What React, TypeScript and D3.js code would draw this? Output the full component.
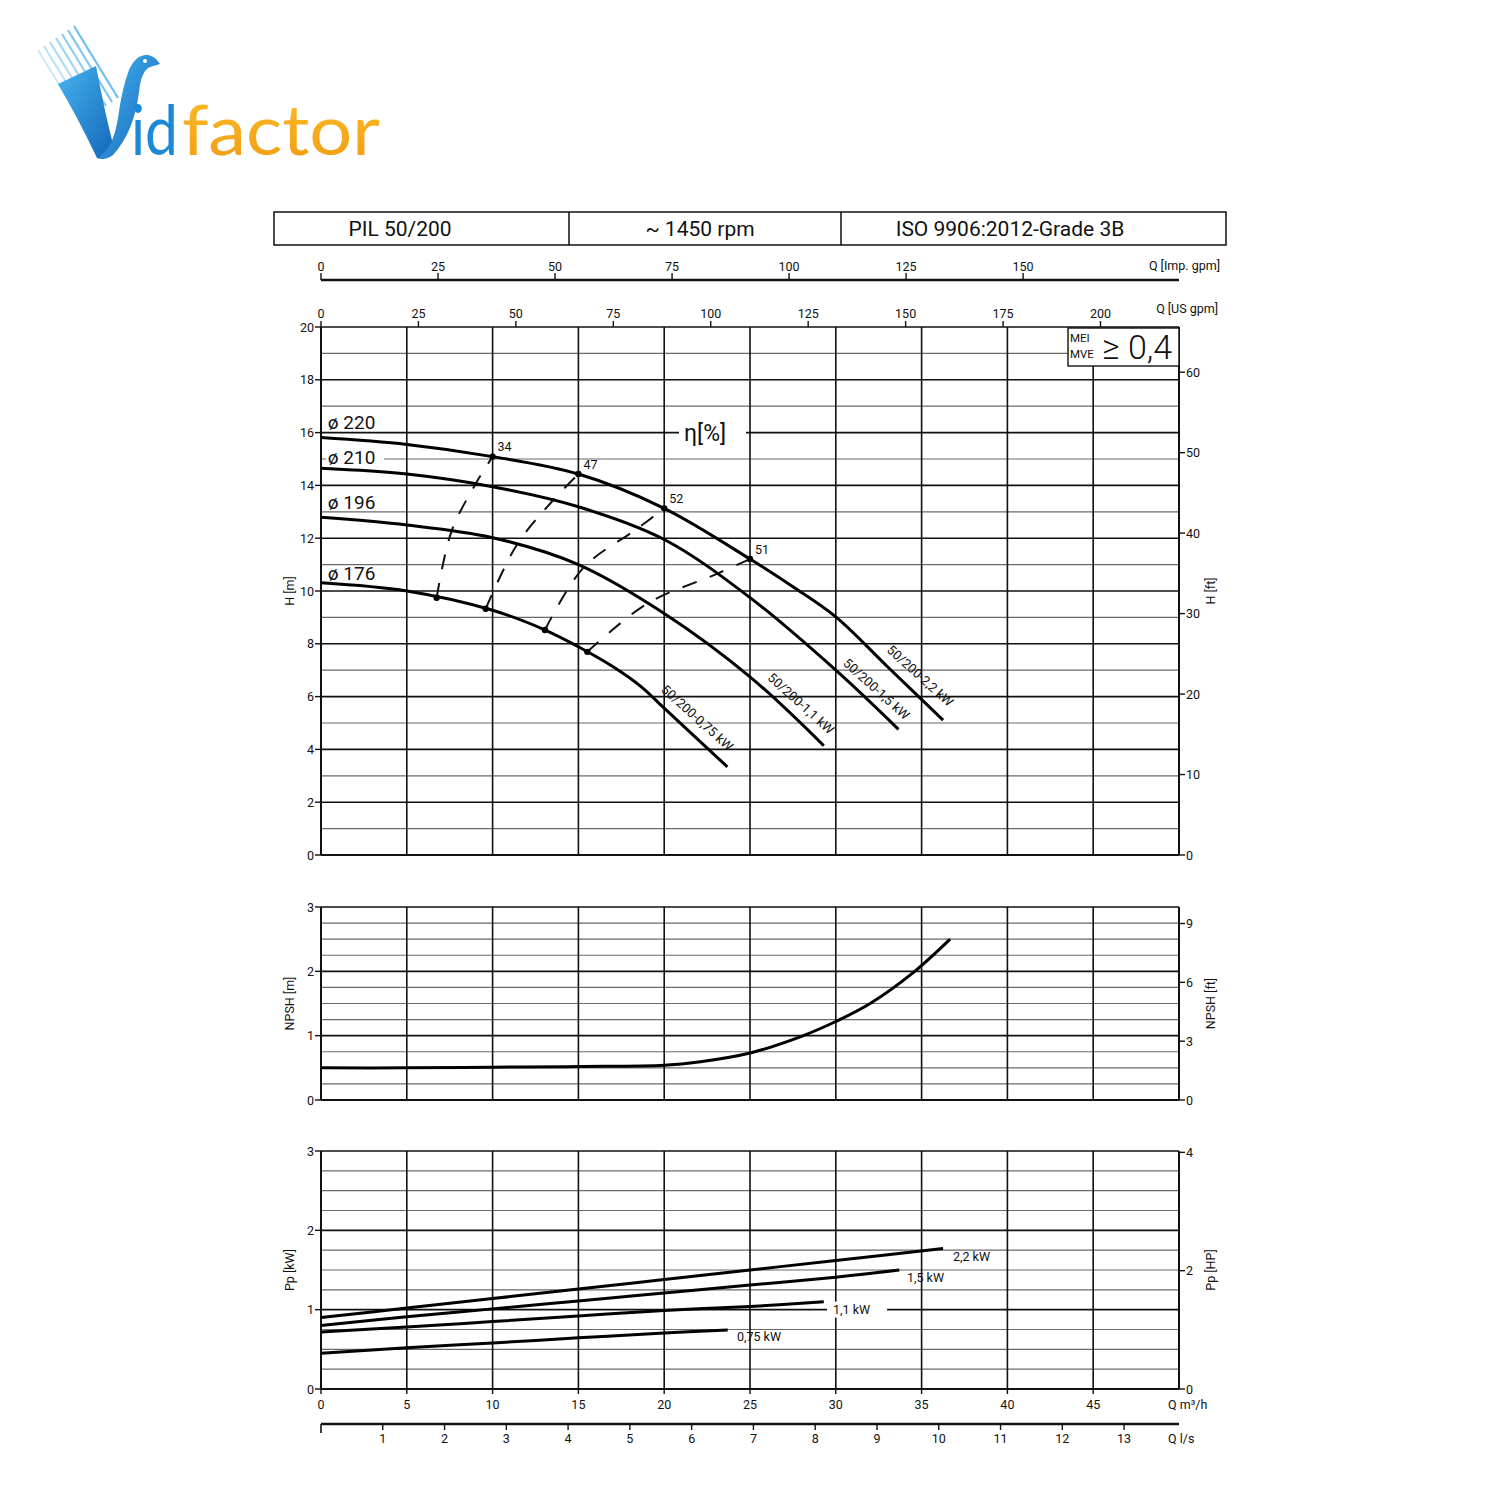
import React from 'react';
import * as d3 from 'd3';

const FONT = 'Roboto, "Open Sans", "DejaVu Sans", sans-serif';

// ---- axis ticks ----
const Q_TICKS = [0, 5, 10, 15, 20, 25, 30, 35, 40, 45];
const LS_TICKS = [1, 2, 3, 4, 5, 6, 7, 8, 9, 10, 11, 12, 13];
const US_TICKS = [0, 25, 50, 75, 100, 125, 150, 175, 200];
const IMP_TICKS = [0, 25, 50, 75, 100, 125, 150];
const H_TICKS = [0, 2, 4, 6, 8, 10, 12, 14, 16, 18, 20];
const HFT_TICKS = [0, 10, 20, 30, 40, 50, 60];
const NPSH_TICKS = [0, 1, 2, 3];
const NPSHFT_TICKS = [0, 3, 6, 9];
const P_TICKS = [0, 1, 2, 3];
const HP_TICKS = [0, 2, 4];

// ---- header ----
const HEADER = ['PIL 50/200', '~ 1450 rpm', 'ISO 9906:2012-Grade 3B'];

// ---- H-Q curves (Q in m3/h, H in m) ----
const DIAMETERS = ['ø 220', 'ø 210', 'ø 196', 'ø 176'];
const MOTORS = ['50/200-2,2 kW', '50/200-1,5 kW', '50/200-1,1 kW', '50/200-0,75 kW'];
const Q_220 = [0, 5, 10, 15, 20, 25, 27.5, 30, 33, 36.25];
const H_220 = [15.81, 15.55, 15.09, 14.43, 13.13, 11.21, 10.16, 9.02, 7.14, 5.11];
const Q_210 = [0, 5, 10, 15, 20, 25, 30, 33.65];
const H_210 = [14.65, 14.43, 13.95, 13.19, 11.95, 9.75, 7.0, 4.76];
const Q_196 = [0, 5, 10, 15, 20, 25, 29.3];
const H_196 = [12.79, 12.5, 12.02, 11.0, 9.15, 6.75, 4.14];
const Q_176 = [0, 5, 10, 13, 15, 17, 18.65, 20, 23.68];
const H_176 = [10.31, 10.0, 9.27, 8.54, 7.89, 7.14, 6.38, 5.56, 3.34];
// diameter label anchor (Q, H)
const DIA_LABEL_Q = [0.4, 0.4, 0.4, 0.4];
const DIA_LABEL_H = [16.4, 15.05, 13.35, 10.65];
// motor label anchor (Q, H)
const MOTOR_LABEL_Q = [33.1, 30.55, 26.15, 19.95];
const MOTOR_LABEL_H = [7.85, 7.35, 6.8, 6.35];

// ---- iso-efficiency lines: Q where each crosses ø176, ø196, ø210, ø220 ----
const EFF_VALUES = ['34', '47', '52', '51'];
const EFF_Q = [
  [6.74, 7.6, 9.0, 10],
  [9.6, 11.4, 13.5, 15],
  [13.05, 15.3, 18.4, 20],
  [15.52, 19.0, 23.0, 25],
];

// ---- NPSH ----
const NPSH_Q = [0, 5, 10, 15, 20, 22, 25, 28, 30, 32, 34.6, 36.66];
const NPSH_V = [0.5, 0.5, 0.51, 0.52, 0.54, 0.59, 0.73, 0.99, 1.22, 1.5, 2.0, 2.5];

// ---- Power ----
const POWER_LABELS = ['2,2 kW', '1,5 kW', '1,1 kW', '0,75 kW'];
const P_Q_22 = [0, 5, 10, 15, 20, 25, 30, 36.25];
const P_22 = [0.9, 1.02, 1.14, 1.26, 1.38, 1.5, 1.62, 1.77];
const P_Q_15 = [0, 5, 10, 15, 20, 25, 30, 33.7];
const P_15 = [0.8, 0.91, 1.01, 1.11, 1.21, 1.31, 1.41, 1.5];
const P_Q_11 = [0, 5, 10, 15, 20, 25, 29.3];
const P_11 = [0.72, 0.78, 0.85, 0.92, 0.99, 1.04, 1.1];
const P_Q_075 = [0, 5, 10, 15, 20, 23.7];
const P_075 = [0.45, 0.52, 0.58, 0.645, 0.705, 0.745];
const P_LABEL_Q = [36.83, 34.15, 29.84, 24.24];
const P_LABEL_V = [1.665, 1.4, 1.0, 0.656];

const range = (a: number, b: number, s: number) => d3.range(a, b + s / 2, s);

export default function App() {
  const X0 = 321, X1 = 1179;
  const x = d3.scaleLinear().domain([0, 50]).range([X0, X1]);
  const xUS = d3.scaleLinear().domain([0, 50 / 0.2271247]).range([X0, X1]);
  const xImp = d3.scaleLinear().domain([0, 50 / 0.2727655]).range([X0, X1]);
  const xLs = d3.scaleLinear().domain([0, 50 / 3.6]).range([X0, X1]);
  const yH = d3.scaleLinear().domain([0, 20]).range([855, 327]);
  const yHft = d3.scaleLinear().domain([0, 20 / 0.3048]).range([855, 327]);
  const yN = d3.scaleLinear().domain([0, 3]).range([1100, 907]);
  const yNft = d3.scaleLinear().domain([0, 3 / 0.3048]).range([1100, 907]);
  const yP = d3.scaleLinear().domain([0, 3]).range([1389, 1151]);
  const yHP = d3.scaleLinear().domain([0, 3 / 0.7457]).range([1389, 1151]);

  const hCurvesQ = [Q_220, Q_210, Q_196, Q_176];
  const hCurvesH = [H_220, H_210, H_196, H_176];
  const hInterp = hCurvesQ.map((qs, i) => d3.scaleLinear().domain(qs).range(hCurvesH[i]));

  const lineGen = (xs: any, ys: any) =>
    d3.line<[number, number]>().x((d) => xs(d[0])).y((d) => ys(d[1])).curve(d3.curveCatmullRom.alpha(0.5));
  const zip = (a: number[], b: number[]) => a.map((v, i) => [v, b[i]] as [number, number]);

  const vGrid = (y0: number, y1: number) =>
    Q_TICKS.slice(1).map((q) => (
      <line key={'v' + q + y0} x1={x(q)} x2={x(q)} y1={y0} y2={y1} stroke="#111" strokeWidth={1.6} />
    ));
  const hGrid = (ys: any, vals: number[], isMajor: (v: number) => boolean) =>
    vals.map((v) => (
      <line
        key={'h' + v + ys(0)}
        x1={X0}
        x2={X1}
        y1={ys(v)}
        y2={ys(v)}
        stroke={isMajor(v) ? '#111' : '#6a6a6a'}
        strokeWidth={isMajor(v) ? 1.6 : 1.2}
      />
    ));
  const leftTicks = (ys: any, vals: number[]) =>
    vals.map((v) => (
      <g key={'lt' + v + ys(0)}>
        <line x1={X0 - 6} x2={X0} y1={ys(v)} y2={ys(v)} stroke="#111" strokeWidth={1.4} />
        <text x={X0 - 7} y={ys(v)} textAnchor="end" dominantBaseline="central" fontSize={12.5}>
          {v}
        </text>
      </g>
    ));
  const rightTicks = (ys: any, vals: number[]) =>
    vals.map((v) => (
      <g key={'rt' + v + ys(0)}>
        <line x1={X1} x2={X1 + 6} y1={ys(v)} y2={ys(v)} stroke="#111" strokeWidth={1.4} />
        <text x={X1 + 7} y={ys(v)} textAnchor="start" dominantBaseline="central" fontSize={12.5}>
          {v}
        </text>
      </g>
    ));
  const frame = (yTop: number, yBot: number) => (
    <g>
      <line x1={X0} x2={X0} y1={yTop} y2={yBot} stroke="#111" strokeWidth={2} />
      <line x1={X1} x2={X1} y1={yTop} y2={yBot} stroke="#111" strokeWidth={2} />
      <line x1={X0} x2={X1} y1={yBot} y2={yBot} stroke="#111" strokeWidth={2} />
      <line x1={X0} x2={X1} y1={yTop} y2={yTop} stroke="#111" strokeWidth={1.6} />
    </g>
  );
  const rotLabel = (text: string, cx: number, cy: number) => (
    <text
      x={cx}
      y={cy}
      transform={`rotate(-90 ${cx} ${cy})`}
      textAnchor="middle"
      dominantBaseline="central"
      fontSize={12.5}
    >
      {text}
    </text>
  );

  const powerQ = [P_Q_22, P_Q_15, P_Q_11, P_Q_075];
  const powerV = [P_22, P_15, P_11, P_075];

  // iso-efficiency points (ø176 -> ø220 ordering of curves index 3,2,1,0)
  const effPts = EFF_Q.map((qs) => qs.map((q, j) => [q, hInterp[3 - j](q)] as [number, number]));
  const effLine = d3
    .line<[number, number]>()
    .x((d) => x(d[0]))
    .y((d) => yH(d[1]))
    .curve(d3.curveCatmullRom.alpha(0.5));

  return (
    <svg
      width={1500}
      height={1500}
      style={{ position: 'absolute', left: 0, top: 0, background: '#fff' }}
      fontFamily={FONT}
      fill="#111"
    >
      <defs>
        <linearGradient id="vgrad" x1="0" y1="0" x2="1" y2="1">
          <stop offset="0" stopColor="#45b4f0" />
          <stop offset="1" stopColor="#1466b8" />
        </linearGradient>
        <linearGradient id="ograd" x1="0" y1="0" x2="0" y2="1">
          <stop offset="0" stopColor="#fbbf2a" />
          <stop offset="1" stopColor="#f29a12" />
        </linearGradient>
      </defs>
      <rect x={0} y={0} width={1500} height={1500} fill="#fff" />

      {/* ---- Logo ---- */}
      <g>
        {d3.range(7).map((i) => (
          <line
            key={'st' + i}
            x1={38 + i * 6}
            y1={50 - i * 4}
            x2={82 + i * 6}
            y2={122 - i * 4}
            stroke="#5fb9ee"
            strokeWidth={2.2}
            opacity={0.3 + i * 0.1}
          />
        ))}
        <path d="M58 84 L96 66 Q106 118 114 148 Q108 161 97 158 Q78 118 58 84 Z" fill="url(#vgrad)" />
        <path
          d="M97 158 Q113 150 118 118 Q122 88 129 70 Q136 54 148 55 Q155 56 160 64 L150 67 Q141 71 139 92 Q134 132 113 155 Q105 161 97 158 Z"
          fill="url(#vgrad)"
        />
        <circle cx={145} cy={61} r={2} fill="#fff" />
        <text x={131} y={155} fontFamily="Lato, sans-serif" fontWeight={400} fontSize={70} fill="#1b8ad6" textLength={47} lengthAdjust="spacingAndGlyphs">
          id
        </text>
        <text x={182} y={155} fontFamily="Lato, sans-serif" fontWeight={400} fontSize={70} fill="url(#ograd)" textLength={198} lengthAdjust="spacingAndGlyphs">
          factor
        </text>
      </g>

      {/* ---- Header ---- */}
      <g>
        <rect x={274} y={212} width={952} height={33} fill="none" stroke="#111" strokeWidth={1.5} />
        <line x1={569} x2={569} y1={212} y2={245} stroke="#111" strokeWidth={1.5} />
        <line x1={841} x2={841} y1={212} y2={245} stroke="#111" strokeWidth={1.5} />
        {HEADER.map((t, i) => (
          <text key={t} x={[400, 700, 1010][i]} y={229} textAnchor="middle" dominantBaseline="central" fontSize={21}>
            {t}
          </text>
        ))}
      </g>

      {/* ---- Imp gpm axis ---- */}
      <g>
        <line x1={X0} x2={X1} y1={280} y2={280} stroke="#111" strokeWidth={2.4} />
        {IMP_TICKS.map((t) => (
          <g key={'imp' + t}>
            <line x1={xImp(t)} x2={xImp(t)} y1={273} y2={280} stroke="#111" strokeWidth={1.4} />
            <text x={xImp(t)} y={266} textAnchor="middle" dominantBaseline="central" fontSize={12.5}>
              {t}
            </text>
          </g>
        ))}
        <text x={1220} y={265} textAnchor="end" dominantBaseline="central" fontSize={12.5}>
          Q [Imp. gpm]
        </text>
      </g>

      {/* ---- US gpm axis ---- */}
      <g>
        {US_TICKS.map((t) => (
          <g key={'us' + t}>
            <line x1={xUS(t)} x2={xUS(t)} y1={321} y2={327} stroke="#111" strokeWidth={1.4} />
            <text x={xUS(t)} y={313} textAnchor="middle" dominantBaseline="central" fontSize={12.5}>
              {t}
            </text>
          </g>
        ))}
        <text x={1218} y={308} textAnchor="end" dominantBaseline="central" fontSize={12.5}>
          Q [US gpm]
        </text>
      </g>

      {/* ---- H panel ---- */}
      <g>
        {hGrid(yH, range(1, 19, 1), (v) => v % 2 === 0)}
        {vGrid(yH(20), yH(0))}
        {frame(yH(20), yH(0))}
        {leftTicks(yH, H_TICKS)}
        {rightTicks(yHft, HFT_TICKS)}
        {rotLabel('H [m]', 289, yH(10))}
        {rotLabel('H [ft]', 1210, yH(10))}

        {/* MEI box */}
        <rect x={1068} y={328} width={111} height={38} fill="#fff" stroke="#111" strokeWidth={1.4} />
        <text x={1070} y={338} fontSize={11.5} dominantBaseline="central">MEI</text>
        <text x={1070} y={354} fontSize={11.5} dominantBaseline="central">MVE</text>
        <text x={1102} y={347} fontSize={34} fontWeight={300} dominantBaseline="central">
          ≥ 0,4
        </text>

        {/* white backgrounds for labels that interrupt gridlines */}
        <rect x={326} y={yH(15.05) - 11} width={58} height={22} fill="#fff" />
        <rect x={679} y={yH(16) - 13} width={67} height={26} fill="#fff" />
        <text x={684} y={yH(16) + 1} fontSize={23} dominantBaseline="central">
          η[%]
        </text>

        {/* iso-efficiency dashed lines */}
        {effPts.map((pts, i) => (
          <path
            key={'eff' + i}
            d={effLine(pts) || ''}
            fill="none"
            stroke="#111"
            strokeWidth={2}
            strokeDasharray="15 14"
          />
        ))}

        {/* H curves */}
        {hCurvesQ.map((qs, i) => (
          <path
            key={'hc' + i}
            d={lineGen(x, yH)(zip(qs, hCurvesH[i])) || ''}
            fill="none"
            stroke="#000"
            strokeWidth={3}
          />
        ))}

        {/* efficiency markers */}
        {effPts.map((pts, i) => (
          <g key={'em' + i}>
            <circle cx={x(pts[0][0])} cy={yH(pts[0][1])} r={3.2} fill="#000" />
            <circle cx={x(pts[3][0])} cy={yH(pts[3][1])} r={3.2} fill="#000" />
            <text x={x(pts[3][0]) + 5} y={yH(pts[3][1]) - 10} fontSize={12.5} dominantBaseline="central">
              {EFF_VALUES[i]}
            </text>
          </g>
        ))}

        {/* diameter labels */}
        {DIAMETERS.map((t, i) => (
          <text key={t} x={x(DIA_LABEL_Q[i])} y={yH(DIA_LABEL_H[i])} fontSize={19} dominantBaseline="central">
            {t}
          </text>
        ))}

        {/* motor labels along curve ends */}
        {MOTORS.map((t, i) => {
          const px = x(MOTOR_LABEL_Q[i]);
          const py = yH(MOTOR_LABEL_H[i]);
          return (
            <text
              key={t}
              x={px}
              y={py}
              transform={`rotate(42 ${px} ${py})`}
              fontSize={13}
              dominantBaseline="central"
            >
              {t}
            </text>
          );
        })}
      </g>

      {/* ---- NPSH panel ---- */}
      <g>
        {hGrid(yN, range(0.25, 2.75, 0.25), (v) => Math.abs(v - Math.round(v)) < 1e-6)}
        {vGrid(yN(3), yN(0))}
        {frame(yN(3), yN(0))}
        {leftTicks(yN, NPSH_TICKS)}
        {rightTicks(yNft, NPSHFT_TICKS)}
        {rotLabel('NPSH [m]', 289, yN(1.5))}
        {rotLabel('NPSH [ft]', 1210, yN(1.5))}
        <path d={lineGen(x, yN)(zip(NPSH_Q, NPSH_V)) || ''} fill="none" stroke="#000" strokeWidth={3} />
      </g>

      {/* ---- Power panel ---- */}
      <g>
        {hGrid(yP, range(0.25, 2.75, 0.25), (v) => Math.abs(v - Math.round(v)) < 1e-6)}
        {vGrid(yP(3), yP(0))}
        {frame(yP(3), yP(0))}
        {leftTicks(yP, P_TICKS)}
        {rightTicks(yHP, HP_TICKS)}
        {rotLabel('Pp [kW]', 289, yP(1.5))}
        {rotLabel('Pp [HP]', 1210, yP(1.5))}
        <rect x={x(P_LABEL_Q[2]) - 6} y={yP(P_LABEL_V[2]) - 8} width={60} height={16} fill="#fff" />
        {powerQ.map((qs, i) => (
          <path
            key={'pc' + i}
            d={lineGen(x, yP)(zip(qs, powerV[i])) || ''}
            fill="none"
            stroke="#000"
            strokeWidth={3}
          />
        ))}
        {POWER_LABELS.map((t, i) => (
          <text
            key={t}
            x={x(P_LABEL_Q[i])}
            y={yP(P_LABEL_V[i])}
            fontSize={12.5}
            dominantBaseline="central"
          >
            {t}
          </text>
        ))}
      </g>

      {/* ---- bottom Q m3/h axis ---- */}
      <g>
        {Q_TICKS.map((q) => (
          <g key={'qb' + q}>
            <line x1={x(q)} x2={x(q)} y1={1389} y2={1394} stroke="#111" strokeWidth={1.4} />
            <text x={x(q)} y={1404} textAnchor="middle" dominantBaseline="central" fontSize={12.5}>
              {q}
            </text>
          </g>
        ))}
        <text x={1168} y={1404} dominantBaseline="central" fontSize={12.5}>
          Q m³/h
        </text>
      </g>

      {/* ---- Q l/s axis ---- */}
      <g>
        <line x1={X0} x2={X1} y1={1424} y2={1424} stroke="#111" strokeWidth={2.4} />
        <line x1={X0} x2={X0} y1={1424} y2={1433} stroke="#111" strokeWidth={1.6} />
        {LS_TICKS.map((t) => (
          <g key={'ls' + t}>
            <line x1={xLs(t)} x2={xLs(t)} y1={1424} y2={1430} stroke="#111" strokeWidth={1.4} />
            <text x={xLs(t)} y={1438} textAnchor="middle" dominantBaseline="central" fontSize={12.5}>
              {t}
            </text>
          </g>
        ))}
        <text x={1168} y={1438} dominantBaseline="central" fontSize={12.5}>
          Q l/s
        </text>
      </g>
    </svg>
  );
}
